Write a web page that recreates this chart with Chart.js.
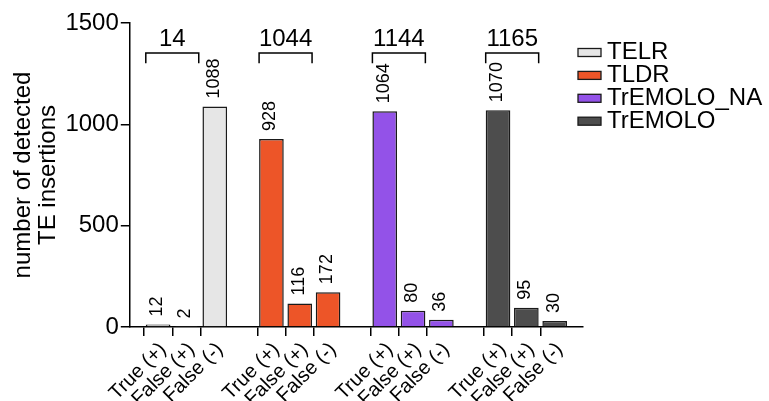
<!DOCTYPE html>
<html>
<head>
<meta charset="utf-8">
<script src="https://cdn.jsdelivr.net/npm/chart.js@4"></script>
<style>
  html, body { margin: 0; padding: 0; background: #fff; }
  #cadre { width: 769px; height: 401px; }
</style>
</head>
<body>
<div id="cadre"><canvas id="graphique_insertions"></canvas></div>
<script>
// DONNEES
const outils = ['TELR', 'TLDR', 'TrEMOLO_NA', 'TrEMOLO'];
const classes = ['True (+)', 'False (+)', 'False (-)'];
const valeursTELR = [12, 2, 1088];
const valeursTLDR = [928, 116, 172];
const valeursTrEMOLO_NA = [1064, 80, 36];
const valeursTrEMOLO = [1070, 95, 30];
const totauxDetectes = [14, 1044, 1144, 1165];
const graduationsY = [0, 500, 1000, 1500];
const couleurs = ['#e6e6e6', '#ed5528', '#9352e8', '#4d4d4d'];

const police = '"Liberation Sans", Arial, sans-serif';
const series = [valeursTELR, valeursTLDR, valeursTrEMOLO_NA, valeursTrEMOLO];

// CATEGORIES : une case vide entre chaque groupe
const etiquettes = [''];
series.forEach(() => {
    classes.forEach(c => etiquettes.push(c));
    etiquettes.push('');
});

// UN JEU DE DONNEES PAR OUTIL, null ailleurs
const jeux = series.map((valeurs, k) => {
    const data = etiquettes.map(() => null);
    valeurs.forEach((v, j) => { data[1 + 4 * k + j] = v; });
    return {
        label: outils[k],
        data: data,
        backgroundColor: couleurs[k],
        borderColor: '#1a1a1a',
        borderWidth: 1.5,
        borderSkipped: 'bottom',
        categoryPercentage: 1,
        barPercentage: 0.87,
        skipNull: true,
    };
});

// VALEURS, ACCOLADES ET LEGENDE
const annotations = {
    id: 'annotations',
    afterDatasetsDraw(chart) {
        const ctx = chart.ctx;
        const y = chart.scales.y;
        chart.data.datasets.forEach((ds, k) => {
            const meta = chart.getDatasetMeta(k);
            meta.data.forEach((barre, i) => {
                if (ds.data[i] === null) return;
                ctx.save();
                ctx.translate(barre.x - 1, barre.y - 8);
                ctx.rotate(-Math.PI / 2);
                ctx.font = '18px ' + police;
                ctx.fillStyle = '#000';
                ctx.textAlign = 'left';
                ctx.textBaseline = 'middle';
                ctx.fillText(String(ds.data[i]), 0, 0);
                ctx.restore();
            });

            // accolade au-dessus de True (+) et False (+)
            const b1 = meta.data[1 + 4 * k];
            const b2 = meta.data[2 + 4 * k];
            const x1 = b1.x - b1.width / 2;
            const x2 = b2.x + b2.width / 2;
            const yHaut = y.getPixelForValue(1352);
            const yBas = y.getPixelForValue(1302);
            ctx.save();
            ctx.strokeStyle = '#000';
            ctx.lineWidth = 1.5;
            ctx.beginPath();
            ctx.moveTo(x1, yBas);
            ctx.lineTo(x1, yHaut);
            ctx.lineTo(x2, yHaut);
            ctx.lineTo(x2, yBas);
            ctx.stroke();
            ctx.font = '24px ' + police;
            ctx.fillStyle = '#000';
            ctx.textAlign = 'center';
            ctx.textBaseline = 'alphabetic';
            ctx.fillText(String(totauxDetectes[k]), (x1 + x2) / 2, y.getPixelForValue(1385));
            ctx.restore();
        });

        // legende a droite
        const xBoite = chart.chartArea.right - 5;
        ctx.save();
        chart.data.datasets.forEach((ds, k) => {
            const yc = 52.5 + k * 22.9;
            ctx.fillStyle = ds.backgroundColor;
            ctx.fillRect(xBoite, yc - 4, 23, 8);
            ctx.strokeStyle = '#1a1a1a';
            ctx.lineWidth = 1.3;
            ctx.strokeRect(xBoite, yc - 4, 23, 8);
            ctx.fillStyle = '#000';
            ctx.font = '24px ' + police;
            ctx.textAlign = 'left';
            ctx.textBaseline = 'middle';
            ctx.fillText(ds.label, xBoite + 29, yc);
        });
        ctx.restore();
    }
};

// CREATION DU GRAPHIQUE
new Chart(document.getElementById('graphique_insertions'), {
    type: 'bar',
    data: { labels: etiquettes, datasets: jeux },
    plugins: [annotations],
    options: {
        responsive: true,
        maintainAspectRatio: false,
        animation: false,
        layout: { padding: { left: 11, right: 186, top: 23, bottom: 0 } },
        plugins: {
            legend: { display: false },
            tooltip: { enabled: false },
        },
        scales: {
            x: {
                offset: false,
                afterFit: axe => { axe.height = 74; },
                border: { color: '#000', width: 1.5 },
                grid: {
                    drawOnChartArea: false,
                    drawTicks: true,
                    tickLength: 9,
                    lineWidth: 1.5,
                    color: ctx => (etiquettes[ctx.index] ? '#000' : 'rgba(0,0,0,0)'),
                },
                ticks: {
                    autoSkip: false,
                    maxRotation: 45,
                    minRotation: 45,
                    padding: 2,
                    labelOffset: 5,
                    color: '#000',
                    font: { family: police, size: 20 },
                },
            },
            y: {
                min: 0,
                max: 1500,
                afterBuildTicks: axe => { axe.ticks = graduationsY.map(v => ({ value: v })); },
                border: { color: '#000', width: 1.5 },
                grid: {
                    drawOnChartArea: false,
                    drawTicks: true,
                    tickLength: 9,
                    lineWidth: 1.5,
                    color: '#000',
                },
                ticks: {
                    padding: 2,
                    color: '#000',
                    font: { family: police, size: 24 },
                    callback: v => String(v),
                },
                title: {
                    display: true,
                    text: ['number of detected', 'TE insertions'],
                    color: '#000',
                    font: { family: police, size: 24, lineHeight: 1.05 },
                    padding: { top: 0, bottom: 2 },
                },
            },
        },
    },
});
</script>
</body>
</html>
